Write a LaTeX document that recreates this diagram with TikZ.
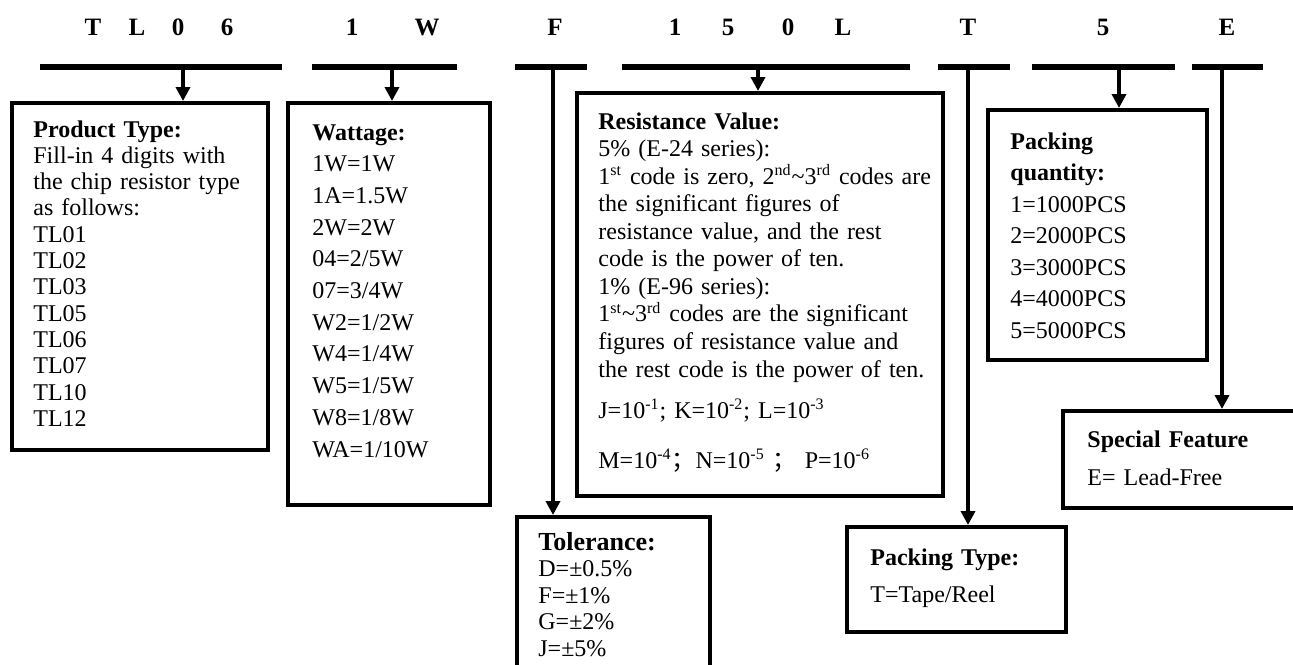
\documentclass[tikz,border=0pt]{standalone}
\usepackage{fontspec}
\setmainfont{Liberation Serif}
\newfontfamily\cjkfont{Noto Sans CJK SC}
\usetikzlibrary{arrows.meta,fit}
\begin{document}
\begin{tikzpicture}[x=0.5pt,y=-0.5pt,
  box/.style={draw, line width=2pt, inner sep=0pt},
  bar/.style={line width=2.6pt},
  conn/.style={line width=2pt},
  arr/.style={conn, -{Triangle[width=7pt,length=7pt]}},
  hdr/.style={font=\fontsize{12.5}{15}\selectfont\bfseries, anchor=base, inner sep=0pt},
  txt/.style={anchor=base west, inner sep=0pt, text width=200pt, align=left}]
\useasboundingbox (0,0) rectangle (1293,664);

% header letters
\node[hdr] (h1) at (93,35.5) {T};
\node[hdr] (h2) at (137,35.5) {L};
\node[hdr] (h3) at (178,35.5) {0};
\node[hdr] (h4) at (227,35.5) {6};
\node[hdr] (h5) at (352,35.5) {1};
\node[hdr] (h6) at (427,35.5) {W};
\node[hdr] (h7) at (555,35.5) {F};
\node[hdr] (h8) at (675,35.5) {1};
\node[hdr] (h9) at (728,35.5) {5};
\node[hdr] (h10) at (788,35.5) {0};
\node[hdr] (h11) at (843,35.5) {L};
\node[hdr] (h12) at (968,35.5) {T};
\node[hdr] (h13) at (1103,35.5) {5};
\node[hdr] (h14) at (1227,35.5) {E};

% bars
\coordinate (b1l) at (40,67);   \coordinate (b1r) at (282,67);
\coordinate (b2l) at (312,67);  \coordinate (b2r) at (457,67);
\coordinate (b3l) at (515,67);  \coordinate (b3r) at (587,67);
\coordinate (b4l) at (622,67);  \coordinate (b4r) at (910,67);
\coordinate (b5l) at (938,67);  \coordinate (b5r) at (1010,67);
\coordinate (b6l) at (1032,67); \coordinate (b6r) at (1175,67);
\coordinate (b7l) at (1192,67); \coordinate (b7r) at (1263,67);
\foreach \i in {1,...,7} {\draw[bar] (b\i l) -- (b\i r);}

% boxes
\node[box, fit={(12,103) (268,450)}] (prod) {};
\node[box, fit={(288,103) (490,505)}] (watt) {};
\node[box, fit={(577,93) (943,496)}] (res) {};
\node[box, fit={(517,517) (710,670)}] (tol) {};
\node[box, fit={(847,527) (1066,632)}] (ptype) {};
\node[box, fit={(988,110) (1207,360)}] (pqty) {};
\node[box, fit={(1063,411) (1300,508)}] (spec) {};

% connectors
\coordinate (c1) at (183,67);
\coordinate (c2) at (392,67);
\coordinate (c3) at (553,67);
\coordinate (c4) at (758,67);
\coordinate (c5) at (968,67);
\coordinate (c6) at (1119,67);
\coordinate (c7) at (1222,67);
\draw[arr] (c1) -- (c1 |- prod.north);
\draw[arr] (c2) -- (c2 |- watt.north);
\draw[arr] (c3) -- (c3 |- tol.north);
\draw[arr] (c4) -- (c4 |- res.north);
\draw[arr] (c5) -- (c5 |- ptype.north);
\draw[arr] (c6) -- (c6 |- pqty.north);
\draw[arr] (c7) -- (c7 |- spec.north);

% texts
\node[txt, font=\fontsize{12}{13.15}\selectfont] (tprod) at (33,137)
 {\textbf{Product Type:}\\Fill-in 4 digits with\\the chip resistor type\\as follows:\\TL01\\TL02\\TL03\\TL05\\TL06\\TL07\\TL10\\TL12};
\node[txt, font=\fontsize{12}{15.85}\selectfont] (twatt) at (312,140)
 {\textbf{Wattage:}\\1W=1W\\1A=1.5W\\2W=2W\\04=2/5W\\07=3/4W\\W2=1/2W\\W4=1/4W\\W5=1/5W\\W8=1/8W\\WA=1/10W};
\node[txt, font=\fontsize{12}{13.78}\selectfont] (tres) at (598,129)
 {\textbf{Resistance Value:}\\5\% (E-24 series):\\1\textsuperscript{st} code is zero, 2\textsuperscript{nd}\textasciitilde3\textsuperscript{rd} codes are\\the significant figures of\\resistance value, and the rest\\code is the power of ten.\\1\% (E-96 series):\\1\textsuperscript{st}\textasciitilde3\textsuperscript{rd} codes are the significant\\figures of resistance value and\\the rest code is the power of ten.\\[7pt]J=10\textsuperscript{-1}; K=10\textsuperscript{-2}; L=10\textsuperscript{-3}\\[11pt]M=10\textsuperscript{-4}{\cjkfont ；}N=10\textsuperscript{-5}\ {\cjkfont ；}\ P=10\textsuperscript{-6}};
\node[txt, font=\fontsize{12}{13.33}\selectfont] (ttol) at (538,550)
 {{\fontsize{13}{13.33}\selectfont\bfseries Tolerance:}\\D=±0.5\%\\F=±1\%\\G=±2\%\\J=±5\%};
\node[txt, font=\fontsize{12}{18.5}\selectfont] (tptype) at (870,565)
 {\textbf{Packing Type:}\\T=Tape/Reel};
\node[txt, font=\fontsize{12}{15.75}\selectfont] (tpqty) at (1010,149)
 {\textbf{Packing}\\\textbf{quantity:}\\1=1000PCS\\2=2000PCS\\3=3000PCS\\4=4000PCS\\5=5000PCS};
\node[txt, font=\fontsize{12}{19}\selectfont] (tspec) at (1087,447)
 {\textbf{Special Feature}\\E= Lead-Free};
\end{tikzpicture}
\end{document}
